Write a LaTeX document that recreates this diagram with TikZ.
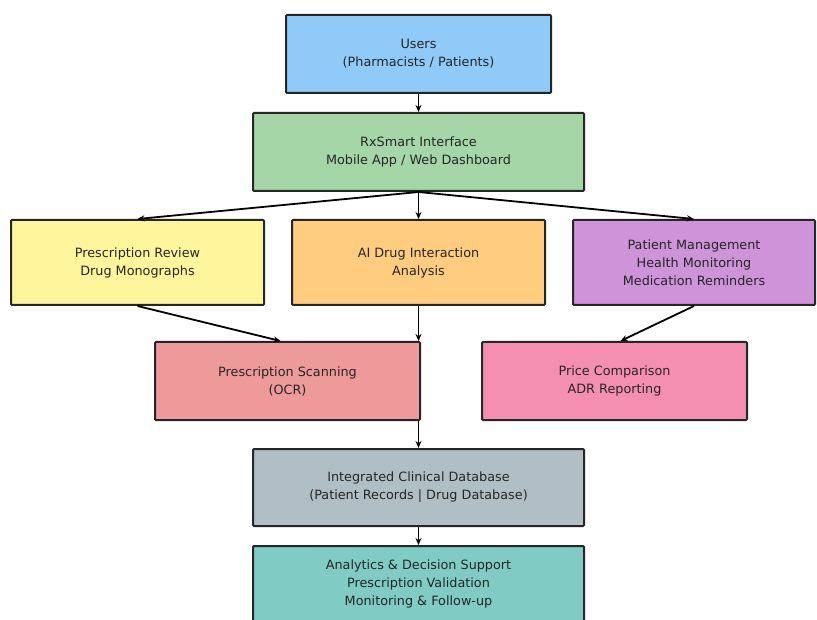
\documentclass[tikz,border=0pt]{standalone}
\usepackage{fontspec}
\setmainfont{DejaVu Sans}
\usepackage{tikz}
\usetikzlibrary{arrows.meta, calc}

\definecolor{usersblue}{HTML}{90CAF9}
\definecolor{rxgreen}{HTML}{A5D6A7}
\definecolor{reviewyellow}{HTML}{FFF59D}
\definecolor{aiorange}{HTML}{FFCC80}
\definecolor{patientpurple}{HTML}{CE93D8}
\definecolor{scanred}{HTML}{EF9A9A}
\definecolor{pricepink}{HTML}{F48FB1}
\definecolor{dbgray}{HTML}{B0BEC5}
\definecolor{analyticsteal}{HTML}{80CBC4}

\begin{document}
\begin{tikzpicture}[x=1pt, y=-1pt,
    box/.style={draw=black!85, line width=2pt, rounded corners=1pt, align=center,
        inner sep=0pt, font=\fontsize{12.8}{18}\selectfont, text=black!85},
    flow/.style={draw=black, line width=1.8pt, -{Stealth[length=7pt, width=6pt]}}]
    \useasboundingbox (0,0) rectangle (817,620);
    % ---- top: users and interface
    \node[box, fill=usersblue, minimum width=265, minimum height=78] (users) at (418.5,54) {Users\\(Pharmacists / Patients)};
    \node[box, fill=rxgreen, minimum width=331, minimum height=78] (rx) at (418.5,152) {RxSmart Interface\\Mobile App / Web Dashboard};
    % ---- three modules
    \node[box, fill=reviewyellow, minimum width=253, minimum height=85] (review) at (137.5,262.5) {Prescription Review\\Drug Monographs};
    \node[box, fill=aiorange, minimum width=253, minimum height=85] (ai) at (418.5,262.5) {AI Drug Interaction\\Analysis};
    \node[box, fill=patientpurple, minimum width=242, minimum height=85] (patient) at (694,262.5) {Patient Management\\Health Monitoring\\Medication Reminders};
    % ---- second row
    \node[box, fill=scanred, minimum width=265, minimum height=78] (scan) at (287.5,381) {Prescription Scanning\\(OCR)};
    \node[box, fill=pricepink, minimum width=265, minimum height=78] (price) at (614.5,381) {Price Comparison\\ADR Reporting};
    % ---- database and analytics
    \node[box, fill=dbgray, minimum width=331, minimum height=77] (db) at (418.5,487.5) {Integrated Clinical Database\\(Patient Records | Drug Database)};
    \node[box, fill=analyticsteal, minimum width=331, minimum height=76] (analytics) at (418.5,584) {Analytics \& Decision Support\\Prescription Validation\\Monitoring \& Follow-up};
    % ---- connectors
    \draw[flow] (users) -- (rx);
    \foreach \t in {review,ai,patient} \draw[flow] (rx.south) -- (\t.north);
    \draw[flow] (review.south) -- ($(scan.north)+(-7,0)$);
    \draw[flow] (ai.south) -- (ai.south |- scan.north);
    \draw[flow] (patient.south) -- ($(price.north)+(6,0)$);
    \draw[flow] (scan.south -| db.north) -- (db.north);
    \draw[flow] (db) -- (analytics);
\end{tikzpicture}
\end{document}
